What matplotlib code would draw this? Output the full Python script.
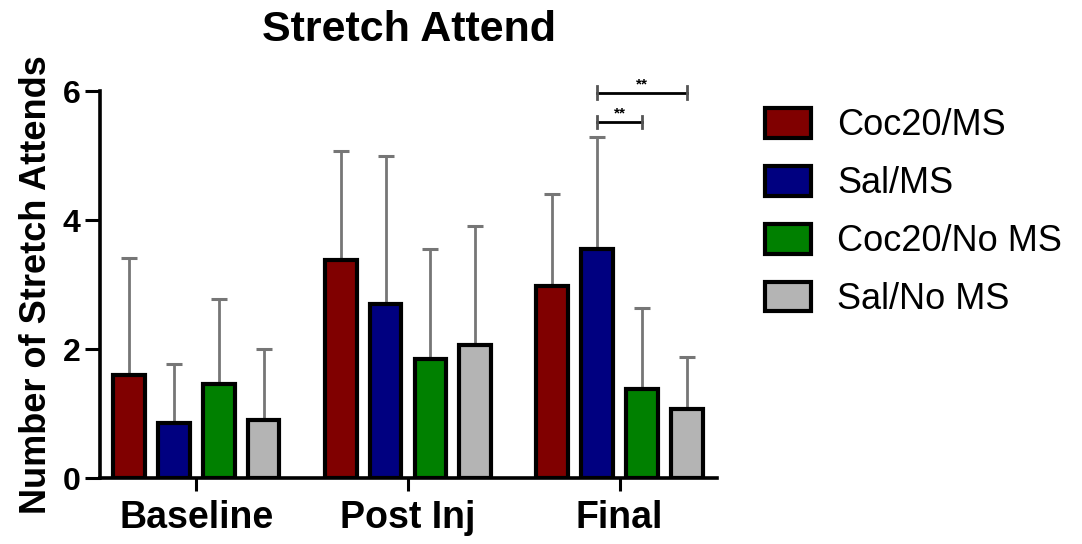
import numpy as np
import matplotlib
matplotlib.use("Agg")
import matplotlib.pyplot as plt

plt.rcParams['font.family'] = ['Liberation Sans', 'DejaVu Sans']

# Data: group means and upper error (SEM) for each treatment
phases = ["Baseline", "Post Inj", "Final"]
groups = ["Coc20/MS", "Sal/MS", "Coc20/No MS", "Sal/No MS"]
coc20_ms = [1.60, 3.38, 2.98]
sal_ms = [0.85, 2.70, 3.55]
coc20_noms = [1.46, 1.84, 1.38]
sal_noms = [0.90, 2.06, 1.07]
coc20_ms_err = [1.81, 1.69, 1.42]
sal_ms_err = [0.92, 2.30, 1.74]
coc20_noms_err = [1.32, 1.71, 1.26]
sal_noms_err = [1.10, 1.85, 0.81]
y_ticks = [0, 2, 4, 6]

means = [coc20_ms, sal_ms, coc20_noms, sal_noms]
errs = [coc20_ms_err, sal_ms_err, coc20_noms_err, sal_noms_err]
colors = ["#800000", "#000080", "#008000", "#b4b4b4"]

fig = plt.figure(figsize=(10.82, 5.44), dpi=100)
ax = fig.add_axes([0.0924, 0.1213, 0.5703, 0.7114])

x = np.arange(len(phases))
step = 0.212
width = 0.150
offsets = (np.arange(len(groups)) - 1.5) * step

for i, (m, e, c, g) in enumerate(zip(means, errs, colors, groups)):
    ax.bar(x + offsets[i], m, width, color=c, edgecolor="black",
           linewidth=3.0, label=g, zorder=3,
           yerr=[np.zeros(len(e)), e],
           error_kw=dict(ecolor="#767676", elinewidth=2.0, capsize=6,
                         capthick=2.2, zorder=2))

ax.set_xlim(-0.455, 2.46)
ax.set_ylim(0, 6)
ax.set_yticks(y_ticks)
ax.set_xticks(x)
ax.set_xticklabels(phases, fontsize=27, fontweight="bold")
ax.set_yticklabels([str(t) for t in y_ticks], fontsize=23, fontweight="bold")
ax.tick_params(axis="y", length=11, width=2.2, pad=3)
ax.tick_params(axis="x", length=9, width=2.2, pad=7)

for side in ("top", "right"):
    ax.spines[side].set_visible(False)
for side in ("left", "bottom"):
    ax.spines[side].set_linewidth(2.6)

ax.set_ylabel("Number of Stretch Attends", fontsize=26, fontweight="bold")
ax.yaxis.set_label_coords(-0.075, 0.5)
ax.set_title("Stretch Attend", fontsize=31, fontweight="bold", y=1.129, pad=0)

# Significance brackets in the Final phase
def bracket(x0, x1, y, text):
    ax.plot([x0, x1], [y, y], color="black", lw=2.0, clip_on=False, zorder=4)
    for xx in (x0, x1):
        ax.plot([xx, xx], [y - 0.1, y + 0.1], color="#555555", lw=2.0,
                clip_on=False, zorder=4)
    ax.text((x0 + x1) / 2, y + 0.02, text, ha="center", va="bottom",
            fontsize=11, fontweight="bold", clip_on=False)

bracket(x[2] + offsets[1], x[2] + offsets[3], 5.97, "**")
bracket(x[2] + offsets[1], x[2] + offsets[2], 5.52, "**")

fig.legend(loc="upper left", bbox_to_anchor=(765 / 1082, 1 - 108 / 544),
           frameon=False, fontsize=26, handlelength=1.28, handleheight=0.9,
           handletextpad=0.72, labelspacing=0.62, borderpad=0,
           borderaxespad=0)

fig.savefig("out.png", dpi=100)
